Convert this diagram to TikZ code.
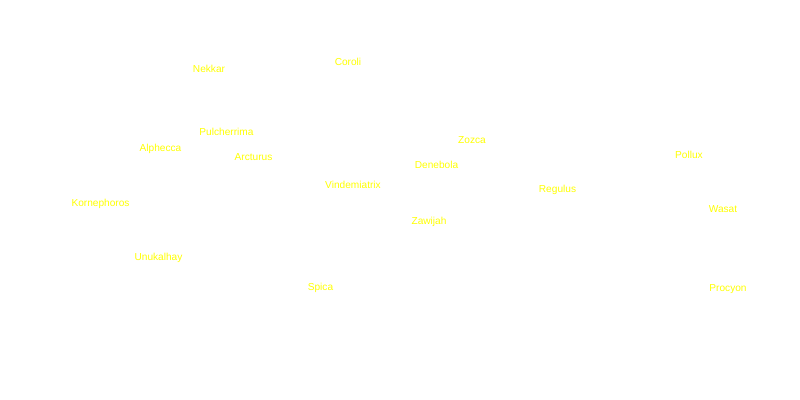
\documentclass[tikz,border=0pt]{standalone}
\usepackage{fontspec}
\setmainfont{Liberation Sans}
\usepackage{xcolor}
\usepackage{tikz}
\definecolor{staryellow}{HTML}{FFFF00}
\tikzset{
  starlabel/.style={text=staryellow, font=\fontsize{7.2}{8}\selectfont,
                    inner sep=0pt, anchor=base},
}

\begin{document}
\begin{tikzpicture}[x=0.025cm, y=-0.025cm]
  \useasboundingbox[fill=white] (0,0) rectangle (800,400);
  \node[starlabel] (nekkar)       at (209,72.8)    {Nekkar};
  \node[starlabel] (coroli)       at (348,65.8)    {Coroli};
  \node[starlabel] (pulcherrima)  at (226.5,135.3) {Pulcherrima};
  \node[starlabel] (alphecca)     at (160.5,151.8) {Alphecca};
  \node[starlabel] (arcturus)     at (253.5,160.3) {Arcturus};
  \node[starlabel] (zozca)        at (472,144)     {Zozca};
  \node[starlabel] (denebola)     at (436.5,168.3) {Denebola};
  \node[starlabel] (vindemiatrix) at (353,188)     {Vindemiatrix};
  \node[starlabel] (regulus)      at (557.5,192)   {Regulus};
  \node[starlabel] (zawijah)      at (429,224)     {Zawijah};
  \node[starlabel] (pollux)       at (689,158.8)   {Pollux};
  \node[starlabel] (wasat)        at (723,212)     {Wasat};
  \node[starlabel] (procyon)      at (728,291.5)   {Procyon};
  \node[starlabel] (kornephoros)  at (100.5,206)   {Kornephoros};
  \node[starlabel] (unukalhay)    at (158.5,260)   {Unukalhay};
  \node[starlabel] (spica)        at (320.5,290)   {Spica};
\end{tikzpicture}
\end{document}
